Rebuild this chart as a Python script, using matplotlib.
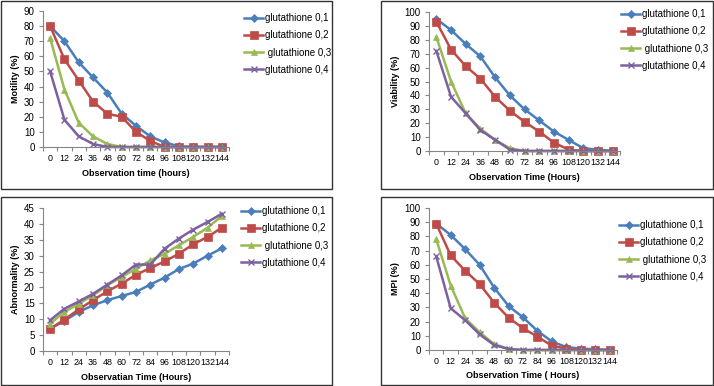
import matplotlib
matplotlib.use("Agg")
import matplotlib.pyplot as plt
from matplotlib.patches import Rectangle

hours = ["0", "12", "24", "36", "48", "60", "72", "84", "96", "108", "120", "132", "144"]
labels = ["glutathione 0,1", "glutathione 0,2", " glutathione 0,3", "glutathione 0,4"]

motility_1 = [80, 70, 56, 46, 36, 22, 14, 7, 3, 0.5, 0, 0, 0]
motility_2 = [80, 58, 44, 30, 22, 20, 10, 4, 0, 0, 0, 0, 0]
motility_3 = [72, 38, 16, 7, 2, 0, 0, 0, 0, 0, 0, 0, 0]
motility_4 = [50, 18, 7, 2, 0, 0, 0, 0, 0, 0, 0, 0, 0]

viability_1 = [95, 87, 77, 68, 53, 40, 30, 22, 14, 8, 2, 1, 0]
viability_2 = [93, 73, 61, 52, 39, 29, 21, 14, 6, 1, 0, 0, 0]
viability_3 = [82, 50, 27, 16, 8, 2, 0, 0, 0, 0, 0, 0, 0]
viability_4 = [72, 39, 27, 15, 8, 1, 0, 0, 0, 0, 0, 0, 0]

abnormality_1 = [7.0, 9.5, 12.3, 14.4, 16.0, 17.3, 18.6, 20.9, 23.1, 25.8, 27.5, 30.0, 32.3]
abnormality_2 = [7.0, 9.9, 13.1, 16.0, 18.8, 21.2, 24.0, 26.1, 28.2, 30.6, 33.6, 35.9, 38.8]
abnormality_3 = [8.6, 12.3, 14.9, 17.5, 20.7, 23.3, 25.9, 28.5, 30.6, 33.3, 35.9, 38.8, 42.5]
abnormality_4 = [9.7, 13.3, 15.6, 18.0, 20.9, 23.8, 27.2, 27.2, 32.2, 35.4, 38.2, 40.6, 43.2]

mpi_1 = [89, 81, 71, 60, 44, 31, 23, 13.4, 6, 2, 1, 0.5, 0]
mpi_2 = [89, 66.6, 55.8, 46.4, 33.4, 22.8, 15.3, 9.4, 3, 1, 0, 0, 0]
mpi_3 = [78, 45.4, 22.4, 12.5, 4.2, 0.7, 0, 0, 0, 0, 0, 0, 0]
mpi_4 = [65.9, 29.4, 21, 11, 3.5, 0.7, 0, 0, 0, 0, 0, 0, 0]

colors = ["#4A7EBB", "#BE4B48", "#98B954", "#7D60A0"]
markers = ["D", "s", "^", "x"]
msizes = [4.0, 6.0, 5.0, 5.0]

W, H = 714, 386
fig = plt.figure(figsize=(W / 100, H / 100), dpi=100)
plt.rcParams['font.family'] = ['DejaVu Sans']
font = 'Liberation Sans'

def fx(px):
    return px / W

def fy(py):
    return 1 - py / H

# panel borders
for (x0, y0, x1, y1) in [(1, 1, 332, 189), (381, 1, 713, 189), (1, 197, 332, 385), (381, 197, 713, 385)]:
    fig.patches.append(Rectangle((fx(x0), fy(y1)), fx(x1) - fx(x0), fy(y0) - fy(y1),
                                 transform=fig.transFigure, fill=False,
                                 edgecolor="#333333", linewidth=1.0))

panels = [
    dict(box=(43, 11, 229, 147), ylim=90, step=10,
         data=[motility_1, motility_2, motility_3, motility_4],
         ylabel="Motility (%)", xlabel="Observation time (hours)",
         leg=(244, 13)),
    dict(box=(429, 12, 620, 151), ylim=100, step=10,
         data=[viability_1, viability_2, viability_3, viability_4],
         ylabel="Viability (%)", xlabel="Observation Time (Hours)",
         leg=(621, 9)),
    dict(box=(43, 208, 229, 351), ylim=45, step=5,
         data=[abnormality_1, abnormality_2, abnormality_3, abnormality_4],
         ylabel="Abnormality (%)", xlabel="Observatian Time (Hours)",
         leg=(241, 206)),
    dict(box=(429, 208, 617, 350), ylim=100, step=10,
         data=[mpi_1, mpi_2, mpi_3, mpi_4],
         ylabel="MPI (%)", xlabel="Observation Time ( Hours)",
         leg=(619, 220)),
]

x = list(range(len(hours)))
for p in panels:
    x0, y0, x1, y1 = p["box"]
    ax = fig.add_axes([fx(x0), fy(y1), fx(x1) - fx(x0), fy(y0) - fy(y1)])
    handles = []
    for i, series in enumerate(p["data"]):
        h, = ax.plot(x, series, color=colors[i], linewidth=1.8, marker=markers[i],
                     markersize=msizes[i], markeredgewidth=1.0 if markers[i] == "x" else 0.5,
                     markeredgecolor=colors[i], label=labels[i], clip_on=False)
        handles.append(h)
    ax.set_xlim(-0.5, len(hours) - 0.5)
    ax.set_ylim(0, p["ylim"])
    ax.set_yticks(range(0, p["ylim"] + 1, p["step"]))
    ax.set_xticks([i - 0.5 for i in range(len(hours) + 1)])
    ax.set_xticklabels([])
    ax.set_xticks(x, minor=True)
    ax.set_xticklabels(hours, minor=True, fontsize=6.4, family=font)
    ax.tick_params(axis="x", which="minor", length=0, pad=5)
    ax.tick_params(axis="x", which="major", length=3, color="#868686", direction="out")
    ax.tick_params(axis="y", length=3, color="#868686", labelsize=7, pad=3)
    for lbl in ax.get_yticklabels():
        lbl.set_family(font)
    for s in ["top", "right"]:
        ax.spines[s].set_visible(False)
    for s in ["left", "bottom"]:
        ax.spines[s].set_color("#868686")
        ax.spines[s].set_linewidth(0.8)
    ax.set_ylabel(p["ylabel"], fontsize=6.5, fontweight="bold", family=font, labelpad=3)
    ax.set_xlabel(p["xlabel"], fontsize=6.5, fontweight="bold", family=font, labelpad=4)
    lx, ly = p["leg"]
    fig.legend(handles=handles, loc="upper left", bbox_to_anchor=(fx(lx), fy(ly)),
               frameon=False, prop=dict(family=font, size=7), handlelength=2.0,
               handletextpad=0.2, labelspacing=0.75, borderaxespad=0, borderpad=0)

fig.savefig("out.png", dpi=100)
